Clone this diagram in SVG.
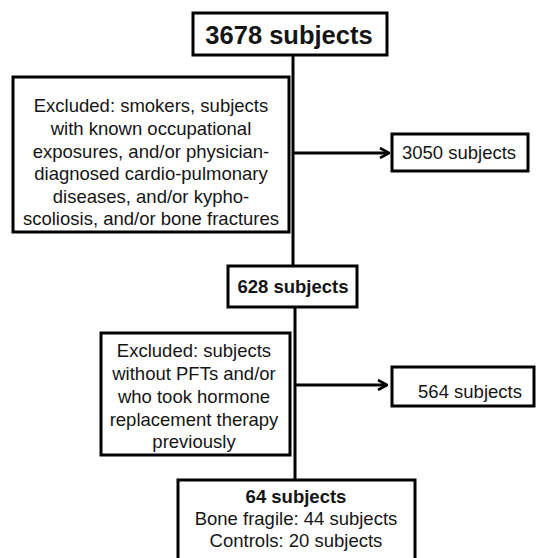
<svg xmlns="http://www.w3.org/2000/svg" width="536" height="558" viewBox="0 0 536 558">
<defs>
<style>
.box{fill:#fff;stroke:#000;stroke-width:3}
.ln{fill:none;stroke:#000;stroke-width:3}
text{font-family:"Liberation Sans",Arial,sans-serif;fill:#151515;text-anchor:middle}
.t{font-size:18.5px}
.b{font-weight:bold}
</style>
<marker id="ah" viewBox="0 0 12 12" refX="11" refY="6" markerWidth="12" markerHeight="12" orient="auto" markerUnits="userSpaceOnUse">
<path d="M2,1 L11,6 L2,11" fill="none" stroke="#000" stroke-width="2.6"/>
</marker>
</defs>
<rect width="536" height="558" fill="#fff"/>
<g id="connectors">
<line class="ln" x1="293" y1="55" x2="293" y2="266"/>
<line class="ln" x1="295" y1="307" x2="295" y2="480"/>
<path class="ln" d="M293,153 H389" marker-end="url(#ah)"/>
<path class="ln" d="M295,385 H387" marker-end="url(#ah)"/>
</g>
<g id="n1">
<rect class="box" x="193" y="13" width="194" height="42"/>
<text x="289" y="44" style="font-size:25.5px" class="b">3678 subjects</text>
</g>
<g id="n2">
<rect class="box" x="13" y="77" width="276" height="155"/>
<text class="t" x="151" y="112">Excluded: smokers, subjects</text>
<text class="t" x="151" y="135">with known occupational</text>
<text class="t" x="151" y="158">exposures, and/or physician-</text>
<text class="t" x="151" y="180">diagnosed cardio-pulmonary</text>
<text class="t" x="151" y="203">diseases, and/or kypho-</text>
<text class="t" x="151" y="225">scoliosis, and/or bone fractures</text>
</g>
<g id="n3">
<rect class="box" x="392" y="134" width="136" height="37"/>
<text class="t" x="459" y="159">3050 subjects</text>
</g>
<g id="n4">
<rect class="box" x="228" y="266" width="129" height="41"/>
<text class="t b" x="293" y="293">628 subjects</text>
</g>
<g id="n5">
<rect class="box" x="101" y="333" width="189" height="122"/>
<text class="t" x="194" y="357">Excluded: subjects</text>
<text class="t" x="194" y="380">without PFTs and/or</text>
<text class="t" x="194" y="403">who took hormone</text>
<text class="t" x="194" y="426">replacement therapy</text>
<text class="t" x="194" y="448">previously</text>
</g>
<g id="n6">
<rect class="box" x="392" y="367" width="142" height="39"/>
<text class="t" x="470" y="398">564 subjects</text>
</g>
<g id="n7">
<rect class="box" x="178" y="480" width="237" height="85"/>
<text class="t b" x="296" y="503">64 subjects</text>
<text class="t" x="296" y="525">Bone fragile: 44 subjects</text>
<text class="t" x="296" y="547">Controls: 20 subjects</text>
</g>
</svg>
